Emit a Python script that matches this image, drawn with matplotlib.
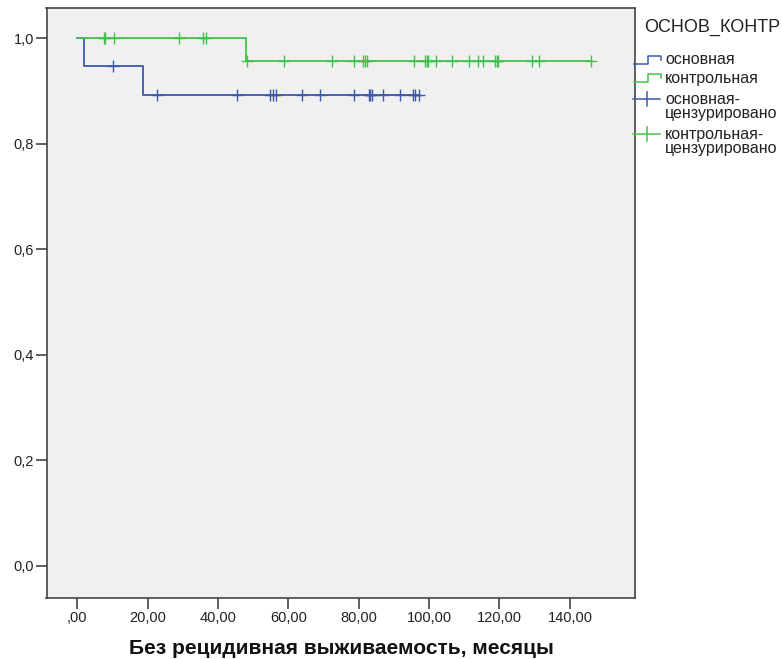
import numpy as np
import matplotlib
matplotlib.use('Agg')
import matplotlib.pyplot as plt
from matplotlib.lines import Line2D

plt.rcParams['font.family'] = ['Liberation Sans', 'DejaVu Sans']

# ---- data ----
group_names = ['основная', 'контрольная']
legend_title = 'ОСНОВ_КОНТР'
censor_labels = ['основная-\nцензурировано', 'контрольная-\nцензурировано']

osn_event_times = [1.9, 18.75]
osn_censor_times = [10.3, 22.8, 45.5, 54.8, 55.6, 56.5, 64.0, 69.1, 78.6, 82.8,
                    83.2, 83.8, 87.0, 91.6, 95.5, 96.0, 97.2]
kontr_event_times = [47.9]
kontr_censor_times = [7.7, 8.0, 10.5, 29.0, 35.9, 36.6, 48.4, 58.9, 72.3, 78.7,
                      81.3, 81.8, 82.3, 95.8, 98.9, 99.3, 99.8, 102.0, 106.5,
                      111.4, 113.8, 115.4, 118.8, 119.2, 119.7, 129.2, 131.3, 146.0]

x_ticks = [0, 20, 40, 60, 80, 100, 120, 140]
x_tick_labels = [',00', '20,00', '40,00', '60,00', '80,00', '100,00', '120,00', '140,00']
y_ticks = [0.0, 0.2, 0.4, 0.6, 0.8, 1.0]
y_tick_labels = ['0,0', '0,2', '0,4', '0,6', '0,8', '1,0']
x_label = 'Без рецидивная выживаемость, месяцы'

colors = ['#3f58ae', '#45c04c']


def km(events, censors):
    ev = np.array(events, float)
    ce = np.array(censors, float)
    times = np.concatenate([ev, ce])
    status = np.concatenate([np.ones_like(ev), np.zeros_like(ce)])
    order = np.lexsort((-status, times))
    times, status = times[order], status[order]
    n = len(times)
    s = 1.0
    xs, ys = [0.0], [1.0]
    cx, cy = [], []
    for i, (t, st) in enumerate(zip(times, status)):
        at_risk = n - i
        if st == 1:
            xs += [t, t]
            ys += [s, s * (1 - 1.0 / at_risk)]
            s = s * (1 - 1.0 / at_risk)
        else:
            cx.append(t)
            cy.append(s)
    xs.append(times.max())
    ys.append(s)
    return np.array(xs), np.array(ys), np.array(cx), np.array(cy)


W, H = 782, 659
fig = plt.figure(figsize=(W / 100, H / 100), dpi=100)
fig.patch.set_facecolor('white')
ax = fig.add_axes([46.5 / W, 1 - 598 / H, (635 - 46.5) / W, (598 - 8) / H])
ax.set_facecolor('#f0f0f0')

for events, censors, col in [(osn_event_times, osn_censor_times, colors[0]),
                             (kontr_event_times, kontr_censor_times, colors[1])]:
    xs, ys, cx, cy = km(events, censors)
    ax.plot(xs, ys, color=col, lw=1.3, zorder=3)
    ax.plot(cx, cy, linestyle='none', marker='+', markersize=9,
            markeredgewidth=1.0, color=col, zorder=4)

ax.set_xlim(-8.7, 158.5)
ax.set_ylim(-0.0607, 1.0569)
ax.set_xticks(x_ticks)
ax.set_xticklabels(x_tick_labels)
ax.set_yticks(y_ticks)
ax.set_yticklabels(y_tick_labels)
ax.tick_params(axis='both', direction='out', length=8, width=1.2,
               color='#444444', labelsize=10.5, labelcolor='#222222', pad=1)
for sp in ax.spines.values():
    sp.set_color('#444444')
    sp.set_linewidth(1.2)

fig.text(341 / W, 1 - 648 / H, x_label, ha='center', va='center',
         fontsize=15, fontweight='bold', color='#111111')


# ---- legend (drawn manually, SPSS style) ----
def fx(px):
    return px / W


def fy(py):
    return 1 - py / H


fig.text(fx(644), fy(27), legend_title, ha='left', va='center',
         fontsize=13, color='#222222')

step_rows = [60, 78]
for col, py, name in zip(colors, step_rows, group_names):
    xs = [634, 648, 648, 661, 661]
    ys = [py + 4, py + 4, py - 4, py - 4, py]
    fig.add_artist(Line2D([fx(v) for v in xs], [fy(v) for v in ys],
                          transform=fig.transFigure, color=col, lw=1.1))
    fig.text(fx(665), fy(py), name, ha='left', va='center',
             fontsize=11.5, color='#222222')

plus_rows = [99, 134]
for col, py, name in zip(colors, plus_rows, censor_labels):
    fig.add_artist(Line2D([fx(633), fx(660)], [fy(py), fy(py)],
                          transform=fig.transFigure, color=col, lw=1.1))
    fig.add_artist(Line2D([fx(647), fx(647)], [fy(py - 7), fy(py + 7)],
                          transform=fig.transFigure, color=col, lw=1.1))
    fig.text(fx(665), fy(py - 7), name, ha='left', va='top',
             fontsize=11.5, color='#222222', linespacing=0.95)

fig.savefig('out.png', dpi=100)
